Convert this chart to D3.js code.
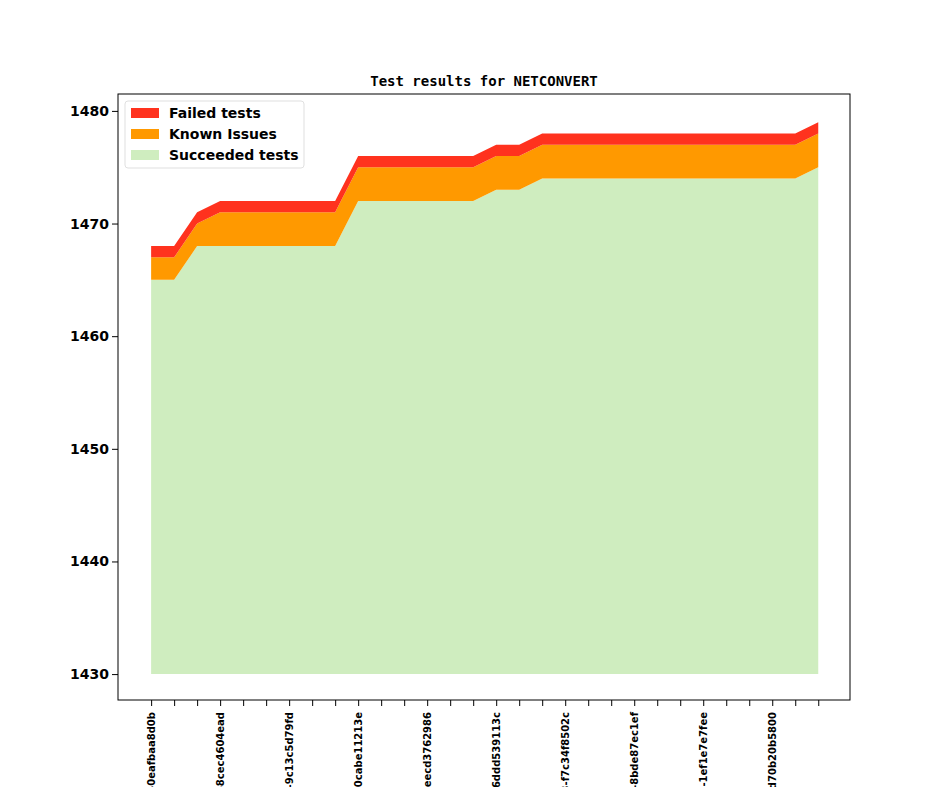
<!DOCTYPE html>
<html><head><meta charset="utf-8">
<script src="https://cdn.jsdelivr.net/npm/d3@7"></script>
<style>body{margin:0;background:#fff}svg{font-family:"DejaVu Sans";font-weight:bold}</style>
</head><body>
<svg class="svg" width="944" height="787"></svg>
<script>
const svg = d3.select('.svg');

const revs = ['0eafbaa8d0b','','','8cec4604ead','','','9c13c5d79fd','','','0cabe11213e','','',
  'eecd3762986','','','6ddd539113c','','','f7c34f8502c','','','8bde87ec1ef','','','1ef1e7e7fee','','',
  'd70b20b5800','',''];
const succ  = [1465,1465,1468,1468,1468,1468,1468,1468,1468,1472,1472,1472,1472,1472,1472,1473,1473,
  1474,1474,1474,1474,1474,1474,1474,1474,1474,1474,1474,1474,1475];
const known = [2,2,2,3,3,3,3,3,3,3,3,3,3,3,3,3,3,3,3,3,3,3,3,3,3,3,3,3,3,3];
const failed = succ.map(() => 1);

const data = succ.map((s, i) => ({i, succ: s - 1430, known: known[i], failed: failed[i]}));
const keys = ['succ', 'known', 'failed'];
const colors = {succ: '#cfedbf', known: '#ff9900', failed: '#ff321e'};

const x = d3.scaleLinear().domain([-1.44, 30.38]).range([118, 850]);
const y = d3.scaleLinear().domain([1427.7, 1481.5]).range([700, 94]);

const series = d3.stack().keys(keys)(data);
const area = d3.area().x(d => x(d.data.i)).y0(d => y(1430 + d[0])).y1(d => y(1430 + d[1]));

svg.selectAll('path.layer').data(series).enter().append('path')
  .attr('class', 'layer').attr('d', area).attr('fill', d => colors[d.key]);

svg.append('g').attr('transform', 'translate(118,0)')
  .call(d3.axisLeft(y).tickValues([1430,1440,1450,1460,1470,1480]).tickFormat(d3.format('d')).tickSizeOuter(0))
  .call(g => g.selectAll('text').attr('font-size', 14).attr('fill', '#000').attr('font-family', 'DejaVu Sans').attr('font-weight', 'bold'))
  .call(g => g.select('.domain').remove());

const xa = svg.append('g').attr('transform', 'translate(0,700)')
  .call(d3.axisBottom(x).tickValues(d3.range(30)).tickFormat(i => revs[i] ? 'v1_20_0-123-' + revs[i] : '').tickSizeOuter(0));
xa.select('.domain').remove();
xa.selectAll('text').attr('font-size', 10).attr('font-family', 'DejaVu Sans').attr('font-weight', 'bold')
  .attr('fill', '#000').attr('text-anchor', 'end').attr('transform', 'rotate(-90)')
  .attr('x', -12).attr('y', 0).attr('dy', '0.35em');

svg.append('rect').attr('x', 118).attr('y', 94).attr('width', 732).attr('height', 606)
  .attr('fill', 'none').attr('stroke', '#000').attr('stroke-width', 1);

svg.append('text').attr('x', 484).attr('y', 86).attr('text-anchor', 'middle')
  .attr('font-family', 'DejaVu Sans Mono').attr('font-size', 14).text('Test results for NETCONVERT');

const leg = svg.append('g').attr('transform', 'translate(125,101)');
leg.append('rect').attr('width', 179).attr('height', 67).attr('rx', 3).attr('fill', '#fff')
  .attr('stroke', '#ddd').attr('opacity', 0.9);
[['Failed tests', 'failed'], ['Known Issues', 'known'], ['Succeeded tests', 'succ']].forEach((d, k) => {
  leg.append('rect').attr('x', 6).attr('y', 7 + k * 21).attr('width', 28).attr('height', 10).attr('fill', colors[d[1]]);
  leg.append('text').attr('x', 44).attr('y', 17 + k * 21).attr('font-size', 14).text(d[0]);
});
</script>
</body></html>
